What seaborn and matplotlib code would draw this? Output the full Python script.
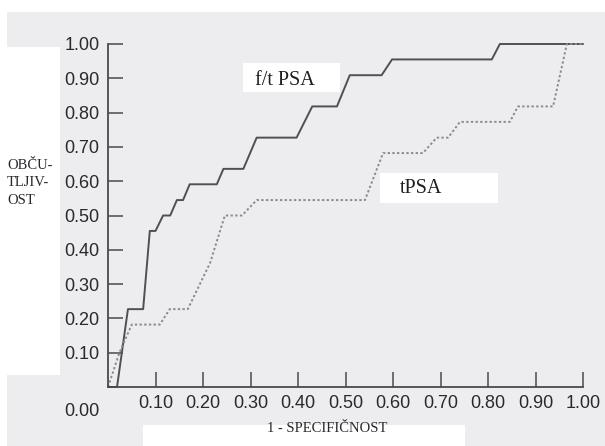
import matplotlib
matplotlib.use("Agg")
import matplotlib.pyplot as plt
from matplotlib.patches import Rectangle
import pandas as pd
import seaborn as sns

# ROC curve vertices: false positive rate (1 - specificity) vs. sensitivity
ft_fpr = [0.0, 0.019, 0.042, 0.074, 0.088, 0.100, 0.116, 0.131, 0.145, 0.158,
          0.172, 0.229, 0.243, 0.285, 0.313, 0.397, 0.430, 0.482, 0.509, 0.576,
          0.598, 0.808, 0.825, 1.0]
ft_tpr = [0.0, 0.0, 0.227, 0.227, 0.455, 0.455, 0.500, 0.500, 0.545, 0.545,
          0.591, 0.591, 0.636, 0.636, 0.727, 0.727, 0.818, 0.818, 0.909, 0.909,
          0.955, 0.955, 1.0, 1.0]

t_fpr = [0.0, 0.024, 0.050, 0.109, 0.130, 0.168, 0.215, 0.246, 0.282, 0.313,
         0.541, 0.579, 0.663, 0.692, 0.716, 0.741, 0.846, 0.863, 0.937, 0.966, 1.0]
t_tpr = [0.0, 0.100, 0.182, 0.182, 0.227, 0.227, 0.362, 0.500, 0.500, 0.545,
         0.545, 0.682, 0.682, 0.727, 0.727, 0.773, 0.773, 0.818, 0.818, 1.0, 1.0]

tick_values = [0.1, 0.2, 0.3, 0.4, 0.5, 0.6, 0.7, 0.8, 0.9, 1.0]
tick_labels = ["0.10", "0.20", "0.30", "0.40", "0.50", "0.60", "0.70", "0.80", "0.90", "1.00"]
origin_label = "0.00"
x_title = "1 - SPECIFIČNOST"
y_title = "OBČU-\nTLJIV-\nOST"
series_names = ["f/t PSA", "tPSA"]

ft = pd.DataFrame({"fpr": ft_fpr, "tpr": ft_tpr})
tp = pd.DataFrame({"fpr": t_fpr, "tpr": t_tpr})

sns.set_style("white")
W, H = 605, 446
fig = plt.figure(figsize=(W / 100, H / 100), dpi=100)
page = "#ededef"
fig.patch.set_facecolor(page)


def px_rect(x0, y0, x1, y1, color="white"):
    fig.add_artist(Rectangle((x0 / W, 1 - y1 / H), (x1 - x0) / W, (y1 - y0) / H,
                             transform=fig.transFigure, facecolor=color,
                             edgecolor="none", zorder=-5))


# paper areas around the printed figure
px_rect(0, 0, W, 12)
px_rect(0, 0, 7, H)
px_rect(7, 47, 60, 375)
px_rect(243, 63, 340, 92)
px_rect(380, 173, 498, 203)
px_rect(143, 425, 465, H)

ax = fig.add_axes([108 / W, 1 - 387 / H, 475 / W, 343 / H])
ax.set_facecolor("none")

ink = "#4a4a4e"
sns.lineplot(data=ft, x="fpr", y="tpr", sort=False, estimator=None, ax=ax,
             color="#505054", linewidth=1.4, clip_on=False)
sns.lineplot(data=tp, x="fpr", y="tpr", sort=False, estimator=None, ax=ax,
             color="#8a8a90", linewidth=1.4, linestyle=(0, (1.2, 1.2)), clip_on=False)

ax.set_xlim(0, 1)
ax.set_ylim(0, 1)
ax.set_xticks(tick_values)
ax.set_xticklabels(tick_labels)
ax.set_yticks(tick_values)
ax.set_yticklabels(tick_labels)
ax.set_xlabel("")
ax.set_ylabel("")

for side in ["top", "right"]:
    ax.spines[side].set_visible(False)
for side in ["left", "bottom"]:
    ax.spines[side].set_color(ink)
    ax.spines[side].set_linewidth(1.3)

tick_font = {"family": "Liberation Sans", "size": 13}
ax.tick_params(axis="both", direction="in", length=11, width=1.1, color=ink,
               labelcolor="#2a2a2e", pad=6, bottom=True, left=True,
               top=False, right=False)
for lab in ax.get_xticklabels() + ax.get_yticklabels():
    lab.set_fontfamily("Liberation Sans")
    lab.set_fontsize(13)

ax.annotate(origin_label, xy=(0, 0), xytext=(-19, -18), textcoords="offset points",
            ha="center", va="center", color="#2a2a2e", **tick_font)

serif = "Liberation Serif"
ax.text(0.373, 0.895, series_names[0], transform=ax.transAxes, ha="center",
        va="center", family=serif, fontsize=14.5, color="#1e1e22")
ax.text(0.659, 0.578, series_names[1], transform=ax.transAxes, ha="center",
        va="center", family=serif, fontsize=14.5, color="#1e1e22")

fig.text(327 / W, 1 - 429 / H, x_title, ha="center", va="center",
         family=serif, fontsize=10.5, color="#2a2a2e")
fig.text(7 / W, 1 - 183 / H, y_title, ha="left", va="center",
         family=serif, fontsize=10.5, color="#2a2a2e", linespacing=1.45)

fig.savefig("out.png", dpi=100, facecolor=fig.get_facecolor())
